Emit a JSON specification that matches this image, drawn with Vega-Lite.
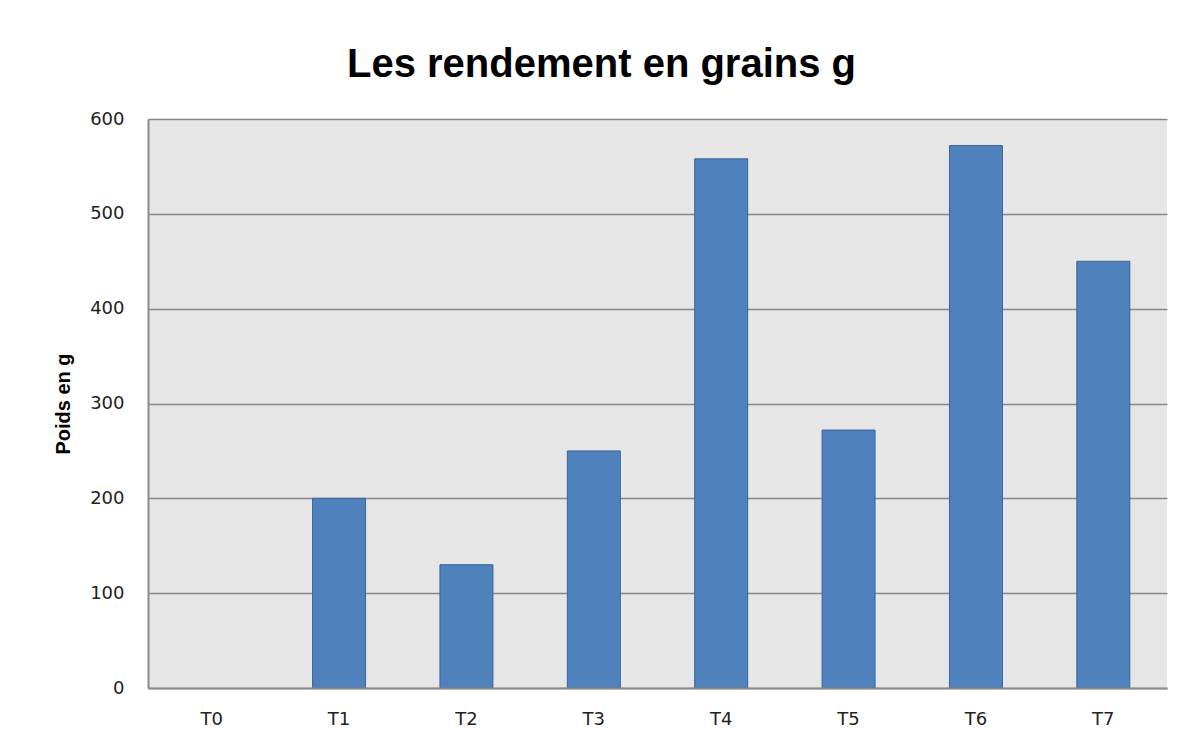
{
  "$schema": "https://vega.github.io/schema/vega-lite/v6.json",
  "width": 1019,
  "height": 569,
  "autosize": "none",
  "padding": {"left": 148, "top": 119, "right": 27, "bottom": 63},
  "background": "white",
  "title": {
    "text": "Les rendement en grains g",
    "font": "Liberation Sans",
    "fontSize": 40,
    "fontWeight": "bold",
    "color": "black",
    "anchor": "middle",
    "dx": -56,
    "baseline": "alphabetic",
    "offset": -7
  },
  "data": {
    "values": [
      {"traitement": "T0", "poids": 0},
      {"traitement": "T1", "poids": 200},
      {"traitement": "T2", "poids": 130},
      {"traitement": "T3", "poids": 250},
      {"traitement": "T4", "poids": 558},
      {"traitement": "T5", "poids": 272},
      {"traitement": "T6", "poids": 572},
      {"traitement": "T7", "poids": 450}
    ]
  },
  "mark": {"type": "bar", "fill": "#4f81bd", "stroke": "#3a6597", "strokeWidth": 1},
  "encoding": {
    "x": {
      "field": "traitement",
      "type": "nominal",
      "sort": null,
      "scale": {"paddingInner": 0.584, "paddingOuter": 0.292},
      "axis": {
        "title": null,
        "labelAngle": 0,
        "ticks": false,
        "domain": true,
        "domainColor": "#8c8c8c",
        "domainWidth": 2,
        "labelFont": "DejaVu Sans",
        "labelFontSize": 18,
        "labelColor": "#222222",
        "labelPadding": 22,
        "grid": false,
        "zindex": 1
      }
    },
    "y": {
      "field": "poids",
      "type": "quantitative",
      "scale": {"domain": [0, 600]},
      "axis": {
        "title": "Poids en g",
        "values": [0, 100, 200, 300, 400, 500, 600],
        "titleFont": "Liberation Sans",
        "titleFontSize": 20,
        "titleFontWeight": "bold",
        "titleColor": "black",
        "titlePadding": 16,
        "ticks": false,
        "domainColor": "#8c8c8c",
        "domainWidth": 2,
        "grid": true,
        "gridColor": "#878787",
        "gridWidth": 1.6,
        "gridOpacity": 1,
        "labelFont": "DejaVu Sans",
        "labelFontSize": 18,
        "labelPadding": 24,
        "labelColor": "#222222"
      }
    },
    "strokeOpacity": {
      "condition": {"test": "datum.poids > 0", "value": 1},
      "value": 0
    }
  },
  "config": {"view": {"fill": "#e6e6e6", "stroke": null}}
}
